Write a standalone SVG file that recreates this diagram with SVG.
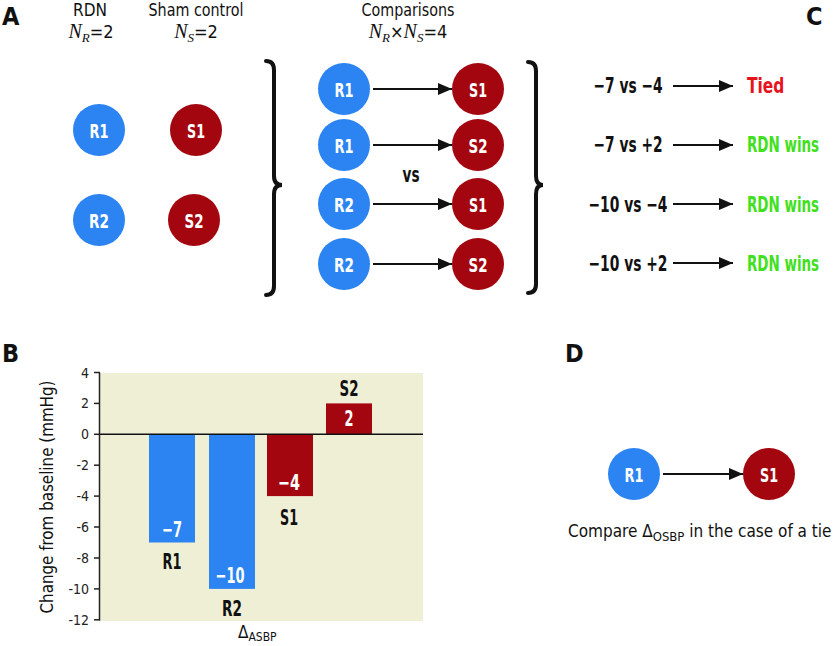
<svg xmlns="http://www.w3.org/2000/svg" width="835" height="646" viewBox="0 0 835 646">
<style>
.lbl{font-family:"DejaVu Sans Condensed","Liberation Sans",Arial,sans-serif;font-weight:bold;font-size:25px;fill:#111}
.hd{font-family:"DejaVu Sans Condensed","Liberation Sans",Arial,sans-serif;font-size:18px;fill:#111;text-anchor:middle}
.math{font-family:"Liberation Serif","Times New Roman",serif;font-style:italic}
.ct{font-family:"DejaVu Sans Condensed","Liberation Sans",Arial,sans-serif;font-weight:bold;font-size:20px;fill:#fff;text-anchor:middle}
.bt{font-family:"DejaVu Sans Condensed","Liberation Sans",Arial,sans-serif;font-weight:bold;font-size:22px;fill:#111;text-anchor:middle}
.bw{fill:#fff}
.tk{font-family:"DejaVu Sans Condensed","Liberation Sans",Arial,sans-serif;font-size:14px;fill:#222;text-anchor:end}
.reg{font-family:"DejaVu Sans Condensed","Liberation Sans",Arial,sans-serif;font-size:17px;fill:#111}
.blue{fill:#2c84f2}
.red{fill:#a4060f}
.arr{stroke:#111;stroke-width:2;fill:none;marker-end:url(#ah)}
.brace{stroke:#111;stroke-width:4;fill:none;stroke-linecap:round}
</style>
<defs>
<marker id="ah" markerUnits="userSpaceOnUse" markerWidth="14" markerHeight="12" refX="14" refY="6" orient="auto">
<path d="M0,0 L14,6 L0,12 Z" fill="#111"/>
</marker>
</defs>
<rect width="835" height="646" fill="#fff"/>

<!-- Panel labels -->
<text class="lbl" x="2" y="25">A</text>
<text class="lbl" x="2" y="362">B</text>
<text class="lbl" x="806" y="25">C</text>
<text class="lbl" x="565" y="362">D</text>

<!-- Panel A headers -->
<text class="hd" x="90" y="16" textLength="34" lengthAdjust="spacingAndGlyphs">RDN</text>
<text class="hd" x="91" y="38"><tspan class="math" font-size="20">N</tspan><tspan class="math" font-size="13" dy="4">R</tspan><tspan dy="-4">=2</tspan></text>
<text class="hd" x="196" y="16" textLength="95" lengthAdjust="spacingAndGlyphs">Sham control</text>
<text class="hd" x="196" y="38"><tspan class="math" font-size="20">N</tspan><tspan class="math" font-size="13" dy="4">S</tspan><tspan dy="-4">=2</tspan></text>
<text class="hd" x="408" y="16" textLength="93" lengthAdjust="spacingAndGlyphs">Comparisons</text>
<text class="hd" x="408" y="38"><tspan class="math" font-size="20">N</tspan><tspan class="math" font-size="13" dy="4">R</tspan><tspan dy="-4">×</tspan><tspan class="math" font-size="20">N</tspan><tspan class="math" font-size="13" dy="4">S</tspan><tspan dy="-4">=4</tspan></text>

<!-- Panel A groups -->
<g id="a-r1"><circle class="blue" cx="99" cy="130" r="26"/><text class="ct" x="99" y="137.5" textLength="19" lengthAdjust="spacingAndGlyphs">R1</text></g>
<g id="a-r2"><circle class="blue" cx="99" cy="220" r="26"/><text class="ct" x="99" y="227.5" textLength="20" lengthAdjust="spacingAndGlyphs">R2</text></g>
<g id="a-s1"><circle class="red" cx="196" cy="130" r="26"/><text class="ct" x="196" y="137.5" textLength="18" lengthAdjust="spacingAndGlyphs">S1</text></g>
<g id="a-s2"><circle class="red" cx="194" cy="220" r="26"/><text class="ct" x="194" y="227.5" textLength="19" lengthAdjust="spacingAndGlyphs">S2</text></g>

<g id="braces">
<path class="brace" d="M266,61 Q274,61 274,70 L274,176 Q274,185 282,185 Q274,185 274,194 L274,286 Q274,295 266,295"/>
<path class="brace" d="M528,62 Q536,62 536,71 L536,176 Q536,185 543,185 Q536,185 536,194 L536,284 Q536,293 528,293"/>
</g>

<g id="cmp1"><circle class="blue" cx="344" cy="89" r="26"/><text class="ct" x="344" y="96.5" textLength="19" lengthAdjust="spacingAndGlyphs">R1</text><circle class="red" cx="478" cy="89" r="26"/><text class="ct" x="478" y="96.5" textLength="18" lengthAdjust="spacingAndGlyphs">S1</text></g>
<g id="cmp2"><circle class="blue" cx="344" cy="145" r="26"/><text class="ct" x="344" y="152.5" textLength="19" lengthAdjust="spacingAndGlyphs">R1</text><circle class="red" cx="478" cy="145" r="26"/><text class="ct" x="478" y="152.5" textLength="19" lengthAdjust="spacingAndGlyphs">S2</text></g>
<g id="cmp3"><circle class="blue" cx="344" cy="204" r="26"/><text class="ct" x="344" y="211.5" textLength="20" lengthAdjust="spacingAndGlyphs">R2</text><circle class="red" cx="478" cy="204" r="26"/><text class="ct" x="478" y="211.5" textLength="18" lengthAdjust="spacingAndGlyphs">S1</text></g>
<g id="cmp4"><circle class="blue" cx="344" cy="264" r="26"/><text class="ct" x="344" y="271.5" textLength="20" lengthAdjust="spacingAndGlyphs">R2</text><circle class="red" cx="478" cy="264" r="26"/><text class="ct" x="478" y="271.5" textLength="19" lengthAdjust="spacingAndGlyphs">S2</text></g>
<text class="bt" x="411" y="182" font-size="19" textLength="17" lengthAdjust="spacingAndGlyphs">vs</text>

<!-- Panel C -->
<g id="c-rows">
<text class="bt" x="628" y="93" textLength="69" lengthAdjust="spacingAndGlyphs">−7 vs −4</text>
<text class="bt" transform="translate(747,93) scale(0.78,1)" x="0" y="0" style="text-anchor:start;fill:#e8121c">Tied</text>
<text class="bt" x="628" y="152" textLength="69" lengthAdjust="spacingAndGlyphs">−7 vs +2</text>
<text class="bt" transform="translate(747,152) scale(0.68,1)" x="0" y="0" style="text-anchor:start;fill:#3fe01c">RDN wins</text>
<text class="bt" x="628" y="212" textLength="79" lengthAdjust="spacingAndGlyphs">−10 vs −4</text>
<text class="bt" transform="translate(747,212) scale(0.68,1)" x="0" y="0" style="text-anchor:start;fill:#3fe01c">RDN wins</text>
<text class="bt" x="628" y="271" textLength="79" lengthAdjust="spacingAndGlyphs">−10 vs +2</text>
<text class="bt" transform="translate(747,271) scale(0.68,1)" x="0" y="0" style="text-anchor:start;fill:#3fe01c">RDN wins</text>
</g>

<!-- Panel B chart -->
<g id="chart">
<rect x="100" y="373" width="323" height="248" fill="#efefd6"/>
<rect class="blue" x="149" y="434.3" width="46" height="108.2"/>
<rect class="blue" x="209" y="434.3" width="46" height="154.6"/>
<rect class="red" x="267" y="434.3" width="46" height="61.8"/>
<rect class="red" x="326" y="403.4" width="46" height="30.9"/>
<line x1="100" y1="434.3" x2="423" y2="434.3" stroke="#111" stroke-width="1.5"/>
<g stroke="#222" stroke-width="1.5">
<line x1="99.5" y1="372.5" x2="99.5" y2="620.5"/>
<line x1="94" y1="372.5" x2="100" y2="372.5"/>
<line x1="94" y1="403.4" x2="100" y2="403.4"/>
<line x1="94" y1="434.3" x2="100" y2="434.3"/>
<line x1="94" y1="465.2" x2="100" y2="465.2"/>
<line x1="94" y1="496.1" x2="100" y2="496.1"/>
<line x1="94" y1="527" x2="100" y2="527"/>
<line x1="94" y1="558" x2="100" y2="558"/>
<line x1="94" y1="588.9" x2="100" y2="588.9"/>
<line x1="94" y1="619.8" x2="100" y2="619.8"/>
</g>
<text class="tk" x="89" y="377.5">4</text>
<text class="tk" x="89" y="408.4">2</text>
<text class="tk" x="89" y="439.3">0</text>
<text class="tk" x="89" y="470.2">-2</text>
<text class="tk" x="89" y="501.1">-4</text>
<text class="tk" x="89" y="532">-6</text>
<text class="tk" x="89" y="563">-8</text>
<text class="tk" x="89" y="593.9">-10</text>
<text class="tk" x="89" y="624.8">-12</text>
<text class="reg" transform="translate(53,497) rotate(-90)" text-anchor="middle" font-size="18" textLength="233" lengthAdjust="spacingAndGlyphs">Change from baseline (mmHg)</text>
<text class="bt bw" x="172" y="537" textLength="20" lengthAdjust="spacingAndGlyphs">−7</text>
<text class="bt bw" x="230" y="583" textLength="29" lengthAdjust="spacingAndGlyphs">−10</text>
<text class="bt bw" x="289" y="490" textLength="22" lengthAdjust="spacingAndGlyphs">−4</text>
<text class="bt bw" x="349" y="426" textLength="9" lengthAdjust="spacingAndGlyphs">2</text>
<text class="bt" x="172" y="569" textLength="19" lengthAdjust="spacingAndGlyphs">R1</text>
<text class="bt" x="232" y="616" textLength="20" lengthAdjust="spacingAndGlyphs">R2</text>
<text class="bt" x="289" y="525" textLength="18" lengthAdjust="spacingAndGlyphs">S1</text>
<text class="bt" x="349" y="396" textLength="19" lengthAdjust="spacingAndGlyphs">S2</text>
<text class="reg" x="238" y="638" font-size="16">Δ<tspan font-size="12" dy="3">ASBP</tspan></text>
</g>

<!-- Panel D -->
<g id="d-r1"><circle class="blue" cx="634" cy="474" r="26"/><text class="ct" x="634" y="481.5" textLength="19" lengthAdjust="spacingAndGlyphs">R1</text></g>
<g id="d-s1"><circle class="red" cx="769" cy="474" r="26"/><text class="ct" x="769" y="481.5" textLength="18" lengthAdjust="spacingAndGlyphs">S1</text></g>
<text class="reg" x="568" y="537" font-size="17">Compare Δ<tspan font-size="13" dy="4">OSBP</tspan><tspan dy="-4"> in the case of a tie</tspan></text>

<!-- Connectors -->
<g id="connectors">
<line class="arr" x1="373" y1="89" x2="452" y2="89"/>
<line class="arr" x1="373" y1="145" x2="452" y2="145"/>
<line class="arr" x1="373" y1="204" x2="452" y2="204"/>
<line class="arr" x1="373" y1="264" x2="452" y2="264"/>
<line class="arr" x1="673" y1="86" x2="733" y2="86"/>
<line class="arr" x1="673" y1="145" x2="733" y2="145"/>
<line class="arr" x1="673" y1="204" x2="733" y2="204"/>
<line class="arr" x1="673" y1="263" x2="733" y2="263"/>
<line class="arr" x1="663" y1="474" x2="743" y2="474"/>
</g>
</svg>
